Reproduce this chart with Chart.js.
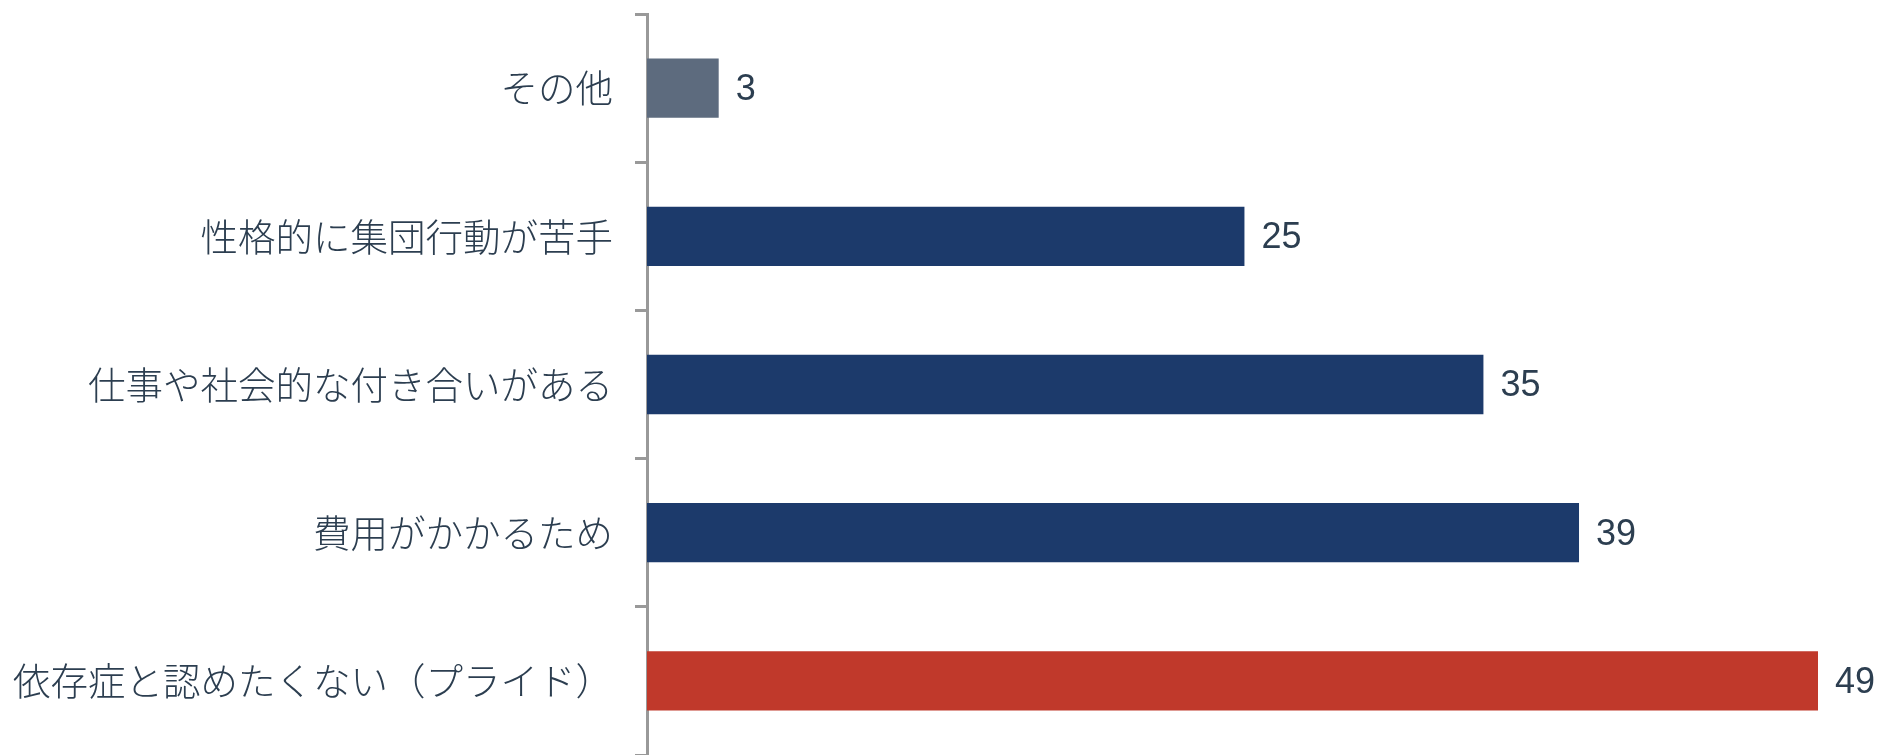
<!DOCTYPE html>
<html lang="ja">
<head>
<meta charset="UTF-8">
<title>受診しない理由</title>
<script src="https://cdn.jsdelivr.net/npm/chart.js@4.4.1/dist/chart.umd.min.js"></script>
<style>
  html, body { margin: 0; padding: 0; background: #fff; }
  #wrap { width: 1881px; height: 755px; position: relative; }
</style>
</head>
<body>
<div id="wrap"><canvas id="myChart"></canvas></div>
<script>
const categories = [
  "その他",
  "性格的に集団行動が苦手",
  "仕事や社会的な付き合いがある",
  "費用がかかるため",
  "依存症と認めたくない（プライド）",
];
const values = [3, 25, 35, 39, 49];
const barColors = ["#5d6b7e", "#1c3a6b", "#1c3a6b", "#1c3a6b", "#c0392b"];

const textColor = "#2c3e50";
const axisColor = "#999999";

// 棒の右端に数値を描く
const valueLabels = {
  id: "valueLabels",
  afterDatasetsDraw(chart) {
    const { ctx } = chart;
    const meta = chart.getDatasetMeta(0);
    ctx.save();
    ctx.font = "36px 'Liberation Sans', Arial, sans-serif";
    ctx.fillStyle = textColor;
    ctx.textAlign = "left";
    ctx.textBaseline = "middle";
    meta.data.forEach((bar, i) => {
      ctx.fillText(String(values[i]), bar.x + 17, bar.y + 2);
    });
    ctx.restore();
  },
};

const ctx = document.getElementById("myChart").getContext("2d");
const myChart = new Chart(ctx, {
  type: "bar",
  data: {
    labels: categories,
    datasets: [
      {
        data: values,
        backgroundColor: barColors,
        borderWidth: 0,
        barPercentage: 0.4,
        categoryPercentage: 1,
      },
    ],
  },
  options: {
    indexAxis: "y",
    responsive: true,
    maintainAspectRatio: false,
    animation: false,
    layout: {
      padding: { top: 14, right: 63, bottom: -1, left: 0 },
    },
    plugins: {
      legend: { display: false },
      tooltip: { enabled: false },
    },
    scales: {
      x: {
        display: false,
        min: 0,
        max: 49,
      },
      y: {
        afterFit: (scale) => {
          scale.width = 647;
          // ラベル分の上下余白は不要
          scale.paddingTop = 0;
          scale.paddingBottom = 0;
        },
        border: { display: true, color: axisColor, width: 3 },
        grid: {
          drawOnChartArea: false,
          drawTicks: true,
          tickLength: 12,
          tickColor: axisColor,
          lineWidth: 3,
        },
        ticks: {
          color: textColor,
          padding: 22,
          font: { family: "'Noto Sans CJK JP Light', 'Noto Sans CJK JP', sans-serif", size: 37.5, weight: 300 },
        },
      },
    },
  },
  plugins: [valueLabels],
});
</script>
</body>
</html>
